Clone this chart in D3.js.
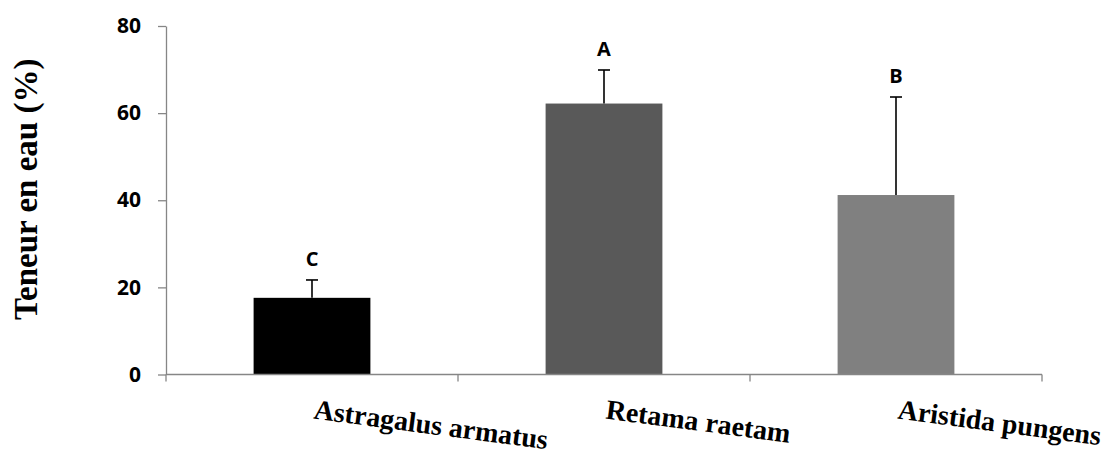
<!DOCTYPE html>
<html>
<head>
<meta charset="utf-8">
<script src="https://cdn.jsdelivr.net/npm/d3@7"></script>
<style>
    body { margin: 0; background: #fff; }
    svg { display: block; }
</style>
</head>
<body>
<svg id="chart"></svg>
<script>
const species = ["Astragalus armatus", "Retama raetam", "Aristida pungens"];
const waterContent = [17.6, 62.2, 41.2];
const errorTop = [21.7, 69.9, 63.7];
const groupLetters = ["C", "A", "B"];
const barColors = ["#000000", "#595959", "#808080"];
const yTicks = [0, 20, 40, 60, 80];

const width = 1110;
const height = 455;
const margin = { top: 26, right: 68, bottom: 80.5, left: 166 };

const svg = d3.select("#chart").attr("width", width).attr("height", height);

const xScale = d3.scaleBand()
    .domain(species)
    .range([margin.left, width - margin.right])
    .padding(0);

const yScale = d3.scaleLinear()
    .domain([0, 80])
    .range([height - margin.bottom, margin.top]);

const barW = xScale.bandwidth() * 0.4;
const cx = d => xScale(d) + xScale.bandwidth() / 2;

// Bars
svg.selectAll(".bar")
    .data(species)
    .enter()
    .append("rect")
    .attr("class", "bar")
    .attr("x", d => cx(d) - barW / 2)
    .attr("y", (d, i) => yScale(waterContent[i]))
    .attr("width", barW)
    .attr("height", (d, i) => yScale(0) - yScale(waterContent[i]))
    .attr("fill", (d, i) => barColors[i]);

// Error bars (upper only)
const err = svg.append("g").attr("stroke", "#000").attr("stroke-width", 1.6);
species.forEach((d, i) => {
    err.append("line")
        .attr("x1", cx(d)).attr("x2", cx(d))
        .attr("y1", yScale(waterContent[i])).attr("y2", yScale(errorTop[i]));
    err.append("line")
        .attr("x1", cx(d) - 6).attr("x2", cx(d) + 6)
        .attr("y1", yScale(errorTop[i])).attr("y2", yScale(errorTop[i]));
});

// Significance letters
svg.selectAll(".letter")
    .data(species)
    .enter()
    .append("text")
    .attr("x", d => cx(d))
    .attr("y", (d, i) => yScale(errorTop[i]) - 14)
    .attr("text-anchor", "middle")
    .style("font-family", "'Open Sans', sans-serif")
    .style("font-weight", "bold")
    .style("font-size", "20px")
    .text((d, i) => groupLetters[i]);

// Y axis
const yAxis = svg.append("g")
    .attr("transform", `translate(${margin.left},0)`)
    .call(d3.axisLeft(yScale).tickValues(yTicks).tickSize(8).tickSizeOuter(0).tickPadding(17));
yAxis.selectAll("line, path").attr("stroke", "#868686").attr("stroke-width", 1.3);
yAxis.selectAll("text")
    .attr("font-family", "'Open Sans', sans-serif")
    .attr("font-weight", "bold")
    .attr("font-size", 21)
    .attr("fill", "#000");

// X axis (ticks at category boundaries)
const bounds = species.map(d => xScale(d)).concat([width - margin.right]);
const xAxis = svg.append("g").attr("stroke", "#868686").attr("stroke-width", 1.3);
xAxis.append("line")
    .attr("x1", margin.left).attr("x2", width - margin.right)
    .attr("y1", yScale(0)).attr("y2", yScale(0));
bounds.forEach(b => {
    xAxis.append("line")
        .attr("x1", b).attr("x2", b)
        .attr("y1", yScale(0)).attr("y2", yScale(0) + 7);
});

// Category labels, slightly tilted
svg.selectAll(".cat")
    .data(species)
    .enter()
    .append("text")
    .attr("transform", d => `translate(${cx(d) + 1},${yScale(0) + 44}) rotate(7.5)`)
    .style("font-family", "'Liberation Serif', 'Times New Roman', serif")
    .style("font-weight", "bold")
    .style("font-size", "28px")
    .text(d => d);

// Y axis title
svg.append("text")
    .attr("transform", `translate(37,${(margin.top + yScale(0)) / 2 - 11}) rotate(-90)`)
    .attr("text-anchor", "middle")
    .style("font-family", "'Liberation Serif', 'Times New Roman', serif")
    .style("font-weight", "bold")
    .style("font-size", "33px")
    .text("Teneur en eau (%)");
</script>
</body>
</html>
